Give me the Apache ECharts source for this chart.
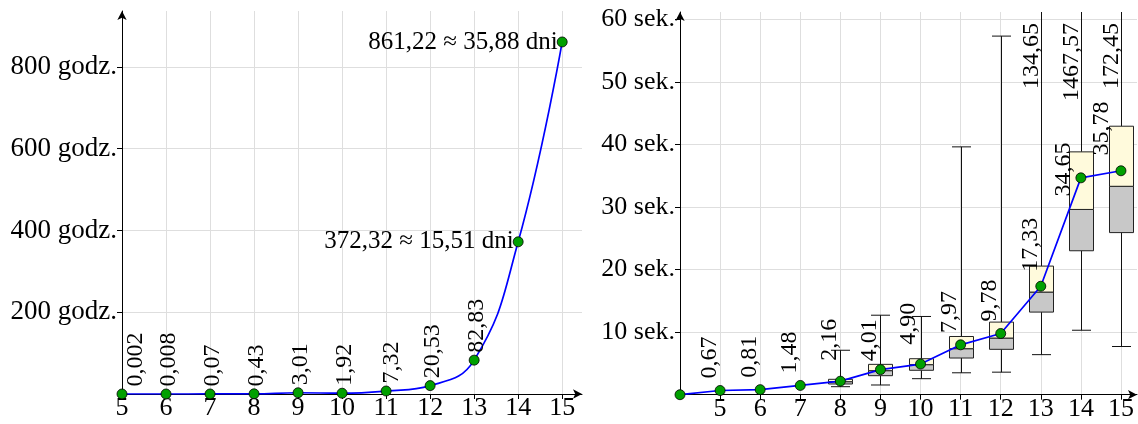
<!DOCTYPE html>
<html><head><meta charset="utf-8">
<script src="https://cdn.jsdelivr.net/npm/echarts@6/dist/echarts.min.js"></script>
<style>html,body{margin:0;padding:0;background:#fff}#c{width:1138px;height:424px}</style>
</head><body><div id="c"></div>
<script>
// ---------- DATA ----------
// Left panel: computation time in hours vs. problem size
const sizesL = [5, 6, 7, 8, 9, 10, 11, 12, 13, 14, 15];
const hours = [0.002, 0.008, 0.07, 0.43, 3.01, 1.92, 7.32, 20.53, 82.83, 372.32, 861.22];
const hourTicks = [200, 400, 600, 800];
const xTicksL = [5, 6, 7, 8, 9, 10, 11, 12, 13, 14, 15];
// Right panel: mean time in seconds + box plots
const sizesR = [4, 5, 6, 7, 8, 9, 10, 11, 12, 13, 14, 15];
const seconds = [0, 0.67, 0.81, 1.48, 2.16, 4.01, 4.90, 7.97, 9.78, 17.33, 34.65, 35.78];
const secTicks = [10, 20, 30, 40, 50, 60];
const xTicksR = [5, 6, 7, 8, 9, 10, 11, 12, 13, 14, 15];
const boxSizes = [8, 9, 10, 11, 12, 13, 14, 15];
const whiskerLow = [1.28, 1.55, 2.56, 3.5, 3.6, 6.4, 10.3, 7.7];
const q1 = [1.71, 3.04, 3.9, 5.86, 7.25, 13.2, 23.0, 25.9];
const median = [2.08, 3.84, 4.8, 7.35, 9.05, 16.4, 29.6, 33.3];
const q3 = [2.46, 4.85, 5.75, 9.3, 11.6, 20.55, 38.8, 42.9];
const whiskerHigh = [7.1, 12.7, 12.5, 39.6, 57.3, 134.65, 1467.57, 172.45];

// ---------- STYLE ----------
const FONT = 'Liberation Serif';
const AX = 26, AXY = 27, LB = 24;
const GREEN = '#00a000', BLUE = '#0000ff', GRIDC = '#dedede';
const fmt = v => (v < 0.01 ? v.toFixed(3) : v.toFixed(2)).replace('.', ',');
// label nudges in screen pixels (styling only); converted to the rotated label frame
const toLocal = s => [-s[1], s[0]];
const nudgeL = {5: [14, 0], 11: [6, 0]};
const defL = [2.5, 0];
const nudgeR = {8: [-10.5, -15], 9: [-10.5, -3], 10: [-11.5, -14], 13: [-10.5, -9], 14: [-17.5, 24], 15: [-19.5, -10]};
const defR = [-10.5, -6.5];

const chart = echarts.init(document.getElementById('c'), null, {renderer: 'canvas'});

function axisCommon(extra) {
  return Object.assign({
    type: 'value',
    axisLine: {show: true, lineStyle: {color: '#000', width: 1}, symbol: ['none', 'arrow'], symbolSize: [7, 9]},
    axisTick: {show: true, length: 5, lineStyle: {color: '#000'}},
    splitLine: {show: true, showMinLine: false, showMaxLine: false, lineStyle: {color: GRIDC, width: 1}},
  }, extra);
}

const leftData = sizesL.map((s, i) => {
  const item = {value: [s, hours[i]]};
  if (s >= 14) {
    item.label = {position: 'left', rotate: 0, align: 'right', verticalAlign: 'middle', distance: -1, fontSize: 25,
      offset: [0, 0],
      formatter: p => fmt(p.value[1]) + ' \u2248 ' + fmt(p.value[1] / 24) + ' dni'};
  } else {
    item.label = {offset: toLocal(nudgeL[s] || defL)};
  }
  return item;
});

const rightData = sizesR.map((s, i) => {
  const item = {value: [s, seconds[i]]};
  if (s === 4) item.label = {show: false};
  else item.label = {offset: toLocal(nudgeR[s] || defR)};
  return item;
});

const boxData = boxSizes.map((s, i) => [s, whiskerLow[i], q1[i], median[i], q3[i], whiskerHigh[i]]);

chart.setOption({
  animation: false,
  grid: [
    {left: 122, right: 556, top: 11, bottom: 30},
    {left: 680, right: 1, top: 12, bottom: 29.3}
  ],
  xAxis: [
    axisCommon({gridIndex: 0, min: 5, max: 15.45, interval: 1,
      axisLabel: {fontFamily: FONT, fontSize: AX, color: '#000', margin: 1, showMaxLabel: false,
        formatter: v => xTicksL.includes(v) ? String(v) : ''}}),
    axisCommon({gridIndex: 1, min: 4, max: 15.4, interval: 1,
      axisLabel: {fontFamily: FONT, fontSize: AX, color: '#000', margin: 1, showMaxLabel: false, showMinLabel: false,
        formatter: v => xTicksR.includes(v) ? String(v) : ''}})
  ],
  yAxis: [
    axisCommon({gridIndex: 0, min: 0, max: 937, interval: 200,
      axisLabel: {fontFamily: FONT, fontSize: AXY, color: '#000', margin: 5, showMinLabel: false, showMaxLabel: false,
        formatter: v => hourTicks.includes(v) ? v + ' godz.' : ''}}),
    axisCommon({gridIndex: 1, min: 0, max: 61.15, interval: 10,
      axisLabel: {fontFamily: FONT, fontSize: AX, color: '#000', margin: 5, showMinLabel: false, showMaxLabel: false,
        formatter: v => secTicks.includes(v) ? v + ' sek.' : ''}})
  ],
  series: [
    {
      type: 'line', xAxisIndex: 0, yAxisIndex: 0, data: leftData,
      smooth: 0.45, symbol: 'circle', symbolSize: 10, z: 3,
      lineStyle: {color: BLUE, width: 1.7},
      itemStyle: {color: GREEN, borderColor: '#000', borderWidth: 0.8},
      label: {show: true, position: 'top', distance: 2, rotate: 90, align: 'left', verticalAlign: 'middle',
        fontFamily: FONT, fontSize: LB, color: '#000', formatter: p => fmt(p.value[1])}
    },
    {
      type: 'custom', xAxisIndex: 1, yAxisIndex: 1, data: boxData, z: 1,
      encode: {x: 0, y: [1, 2, 3, 4, 5]},
      renderItem: function (params, api) {
        const x = api.value(0);
        const cs = params.coordSys;
        const pLo = api.coord([x, api.value(1)]);
        const pQ1 = api.coord([x, api.value(2)]);
        const pMd = api.coord([x, api.value(3)]);
        const pQ3 = api.coord([x, api.value(4)]);
        const hiVal = api.value(5);
        const pHi = api.coord([x, hiVal]);
        const clipped = pHi[1] < cs.y;
        const hiY = clipped ? cs.y : pHi[1];
        const cx = Math.round(pLo[0]) + 0.5, hw = 12, cw = 9.5;
        const ls = {stroke: '#111', lineWidth: 1};
        const ch = [
          {type: 'line', shape: {x1: cx, y1: pQ1[1], x2: cx, y2: pLo[1]}, style: ls},
          {type: 'line', shape: {x1: cx - cw, y1: pLo[1], x2: cx + cw, y2: pLo[1]}, style: ls},
          {type: 'line', shape: {x1: cx, y1: pQ3[1], x2: cx, y2: hiY}, style: ls},
          {type: 'rect', shape: {x: cx - hw, y: pMd[1], width: 2 * hw, height: pQ1[1] - pMd[1]},
            style: {fill: '#c8c8c8', stroke: '#222', lineWidth: 1}},
          {type: 'rect', shape: {x: cx - hw, y: pQ3[1], width: 2 * hw, height: pMd[1] - pQ3[1]},
            style: {fill: '#fffadc', stroke: '#222', lineWidth: 1}}
        ];
        if (!clipped) {
          ch.push({type: 'line', shape: {x1: cx - cw, y1: hiY, x2: cx + cw, y2: hiY}, style: ls});
        } else {
          ch.push({type: 'text', x: cx - 10, y: cs.y + 11, rotation: Math.PI / 2,
            style: {text: fmt(hiVal), x: 0, y: 0, align: 'right', verticalAlign: 'middle',
              font: LB + 'px "' + FONT + '"', fill: '#000'}});
        }
        return {type: 'group', children: ch};
      }
    },
    {
      type: 'line', xAxisIndex: 1, yAxisIndex: 1, data: rightData,
      symbol: 'circle', symbolSize: 10, z: 3,
      lineStyle: {color: BLUE, width: 1.7},
      itemStyle: {color: GREEN, borderColor: '#000', borderWidth: 0.8},
      label: {show: true, position: 'top', distance: 0, rotate: 90, align: 'left', verticalAlign: 'middle',
        fontFamily: FONT, fontSize: LB, color: '#000', formatter: p => fmt(p.value[1])}
    }
  ]
});
</script>
</body></html>
